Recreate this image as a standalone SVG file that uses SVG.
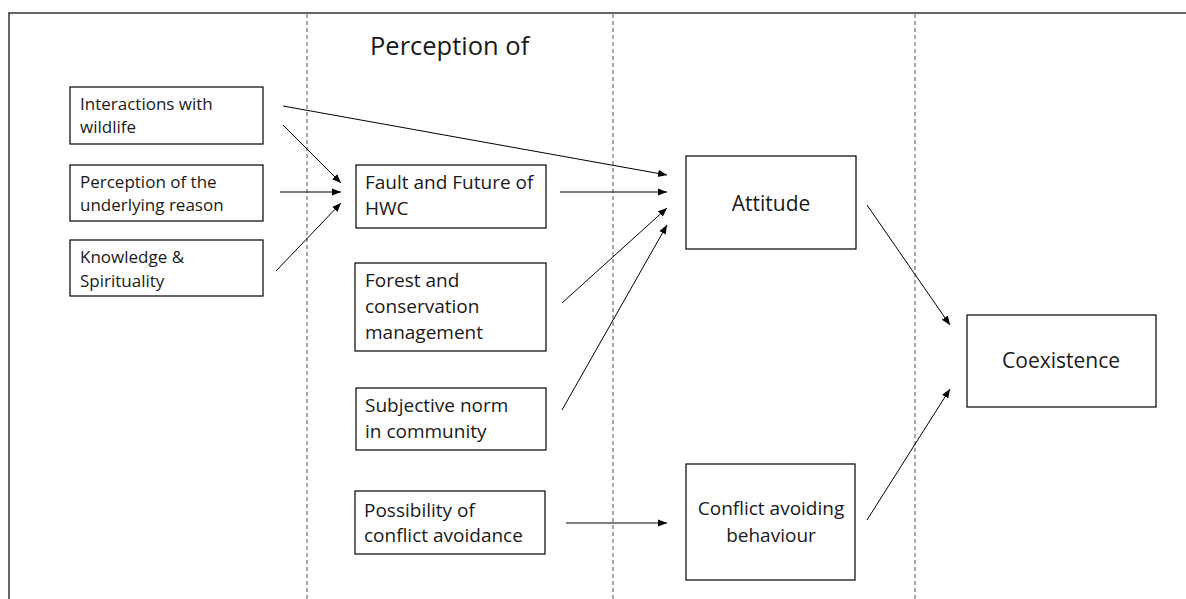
<svg xmlns="http://www.w3.org/2000/svg" width="1186" height="599" viewBox="0 0 1186 599">
<style>
.box{fill:#fff;stroke:#000;stroke-width:1.2}
.t{font-family:"Open Sans","Liberation Sans",Arial,sans-serif;fill:#1a1a1a}
.s{font-size:17px}
.m{font-size:19px}
.l{font-size:21px}
.c{text-anchor:middle}
.e{stroke:#000;stroke-width:1;fill:none;marker-end:url(#ah)}
.d{stroke:#555;stroke-width:1;stroke-dasharray:4,3}
</style>
<defs>
<marker id="ah" viewBox="0 0 10 10" refX="10" refY="5" markerWidth="9" markerHeight="9" markerUnits="userSpaceOnUse" orient="auto">
<path d="M0,1 L10,5 L0,9 z" fill="#000"/>
</marker>
</defs>
<rect width="1186" height="599" fill="#fff"/>
<g id="frame">
<path d="M9,599 V13 H1186" fill="none" stroke="#333" stroke-width="1.5"/>
<line class="d" x1="307" y1="14" x2="307" y2="599"/>
<line class="d" x1="613" y1="14" x2="613" y2="599"/>
<line class="d" x1="915" y1="14" x2="915" y2="599"/>
<text class="t" x="370" y="55" style="font-size:25.5px">Perception of</text>
</g>
<g id="interactions"><rect class="box" x="70" y="87" width="193" height="57"/><text class="t s" x="80" y="110">Interactions with</text><text class="t s" x="80" y="133">wildlife</text></g>
<g id="underlying"><rect class="box" x="70" y="165" width="193" height="56"/><text class="t s" x="80" y="188">Perception of the</text><text class="t s" x="80" y="211">underlying reason</text></g>
<g id="knowledge"><rect class="box" x="70" y="240" width="193" height="56"/><text class="t s" x="80" y="263">Knowledge &amp;</text><text class="t s" x="80" y="287">Spirituality</text></g>
<g id="fault"><rect class="box" x="356" y="165" width="190" height="63"/><text class="t m" x="365" y="189">Fault and Future of</text><text class="t m" x="365" y="215">HWC</text></g>
<g id="forest"><rect class="box" x="355" y="263" width="191" height="88"/><text class="t m" x="365" y="287">Forest and</text><text class="t m" x="365" y="313">conservation</text><text class="t m" x="365" y="339">management</text></g>
<g id="subjective"><rect class="box" x="356" y="388" width="190" height="62"/><text class="t m" x="365" y="412">Subjective norm</text><text class="t m" x="365" y="438">in community</text></g>
<g id="possibility"><rect class="box" x="355" y="491" width="190" height="63"/><text class="t m" x="364" y="517">Possibility of</text><text class="t m" x="364" y="542">conflict avoidance</text></g>
<g id="attitude"><rect class="box" x="686" y="156" width="170" height="93"/><text class="t l c" x="771" y="211">Attitude</text></g>
<g id="behaviour"><rect class="box" x="686" y="464" width="169" height="116"/><text class="t m c" x="771" y="515">Conflict avoiding</text><text class="t m c" x="771" y="542">behaviour</text></g>
<g id="coexistence"><rect class="box" x="967" y="315" width="189" height="92"/><text class="t l c" x="1061" y="368">Coexistence</text></g>
<g id="connectors">
<line class="e" x1="283" y1="106" x2="667" y2="175"/>
<line class="e" x1="283" y1="125" x2="341" y2="183"/>
<line class="e" x1="280" y1="192" x2="341" y2="192"/>
<line class="e" x1="276" y1="271" x2="341" y2="203"/>
<line class="e" x1="560" y1="192" x2="667" y2="192"/>
<line class="e" x1="562" y1="303" x2="667" y2="208"/>
<line class="e" x1="562" y1="410" x2="667" y2="225"/>
<line class="e" x1="566" y1="523" x2="667" y2="523"/>
<line class="e" x1="867" y1="205" x2="950" y2="325"/>
<line class="e" x1="867" y1="520" x2="950" y2="389"/>
</g>
</svg>
